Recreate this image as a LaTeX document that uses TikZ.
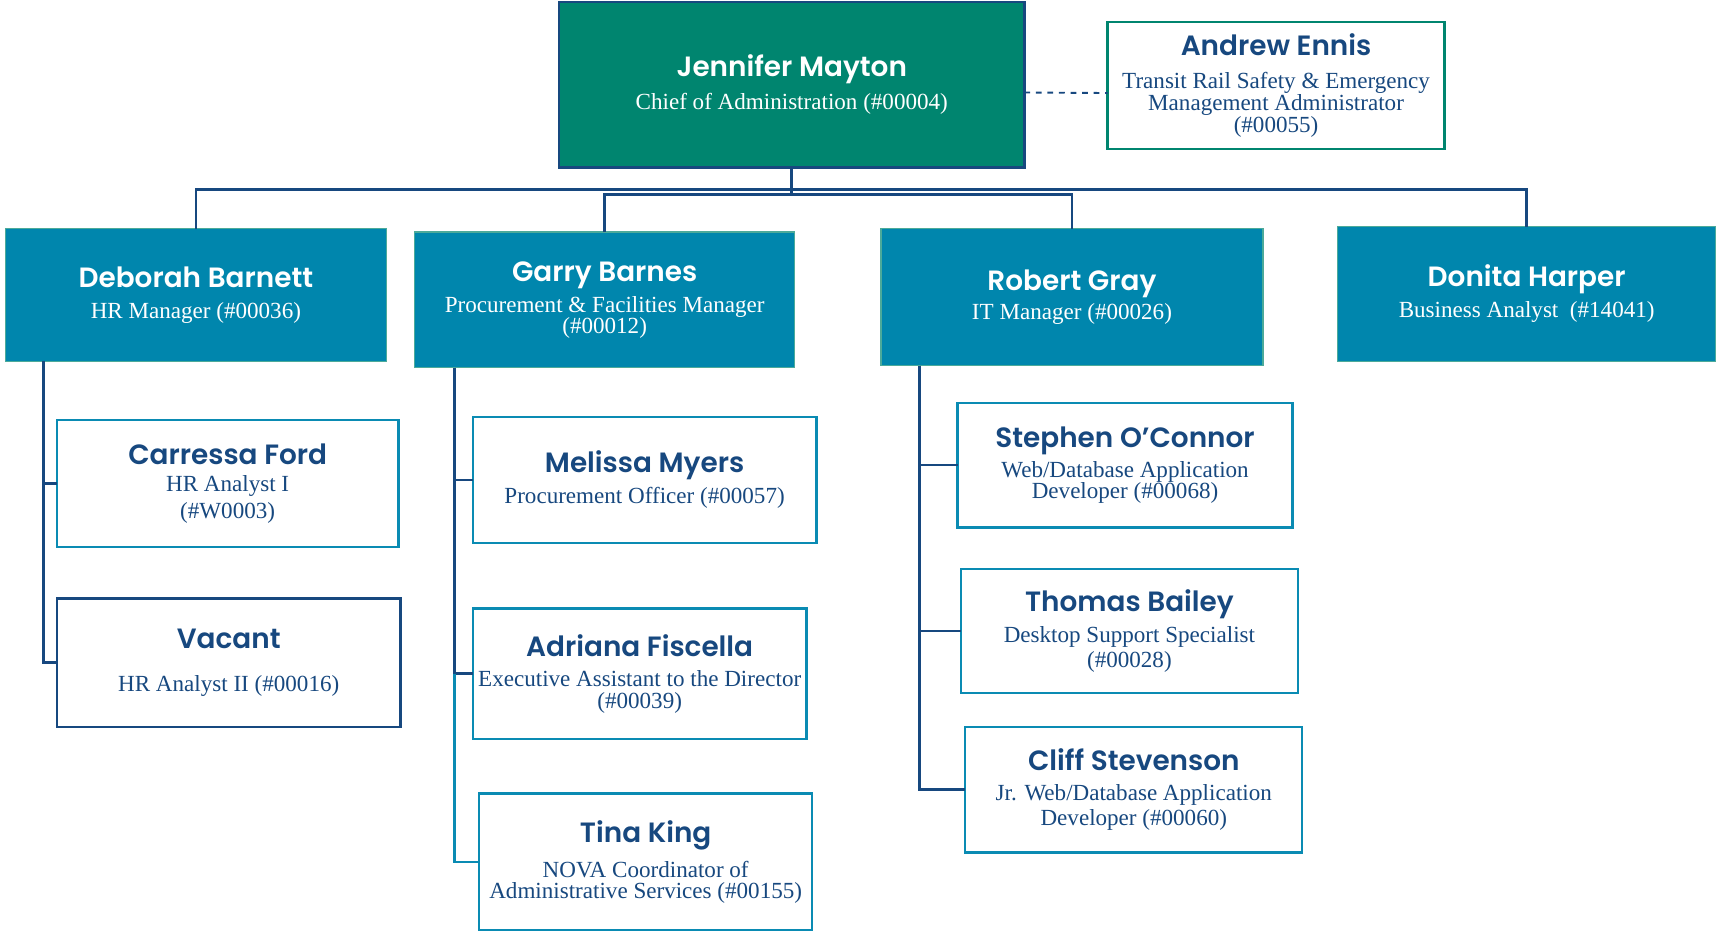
\documentclass[tikz,border=0pt]{standalone}
\usepackage{fontspec}
\setmainfont{Liberation Serif}
\newfontfamily\namefont{Poppins}[BoldFont = {Poppins SemiBold}]
\usetikzlibrary{positioning}
\definecolor{chiefteal}{HTML}{00856F}
\definecolor{mgrblue}{HTML}{0086AD}
\definecolor{orgnavy}{HTML}{17487F}
\definecolor{staffblue}{HTML}{0A8BB3}
\newcommand{\nm}{\namefont\bfseries\fontsize{14.5}{17}\selectfont}
\newcommand{\ttl}{\fontsize{12}{13}\selectfont}

\begin{document}
\begin{tikzpicture}[
                x = 0.2mm, y = -0.2mm, % one unit = one pixel of the sketch
                semithick, % line style
                conn/.style = {draw = orgnavy, line width = 1.4pt} % org chart lines
            ]

            \tikzstyle{every node}=[align = center, inner sep = 0pt,
            outer sep = 0pt, font = \ttl]
            \tikzstyle{chief}=[fill = chiefteal, draw = orgnavy, line width = 1.3pt, text = white]
            \tikzstyle{manager}=[fill = mgrblue, draw = chiefteal!70, line width = 0.6pt, text = white]
            \tikzstyle{staff}=[fill = white, draw = staffblue, line width = 1.2pt, text = orgnavy]

            \useasboundingbox (0,0) rectangle (1568,852);

            % top level
            \node (jen) [chief, minimum width = 85mm, minimum height = 30.2mm] at (723.5,77.5)
            {{\nm Jennifer Mayton}\\[4pt]Chief of Administration (\#00004)};
            \node (ann) [staff, draw = chiefteal, minimum width = 61.6mm, minimum height = 23.2mm] at (1166,78)
            {{\nm Andrew Ennis}\\[4pt]Transit Rail Safety \& Emergency\\[-1.5pt]Management Administrator\\[-1.5pt](\#00055)};

            % managers
            \node (deb) [manager, minimum width = 69.6mm, minimum height = 24.2mm] at (179,269.5)
            {{\nm Deborah Barnett}\\[3pt]HR Manager (\#00036)};
            \node (gar) [manager, minimum width = 69.4mm, minimum height = 24.8mm] at (552.5,274)
            {{\nm Garry Barnes}\\[3pt]Procurement \& Facilities Manager\\[-2pt](\#00012)};
            \node (rob) [manager, minimum width = 69.8mm, minimum height = 25mm] at (979.5,271.5)
            {{\nm Robert Gray}\\[2pt]IT Manager (\#00026)};
            \node (don) [manager, minimum width = 69.2mm, minimum height = 24.6mm] at (1395,268.5)
            {{\nm Donita Harper}\\[3pt]Business Analyst~ (\#14041)};

            % staff
            \node (car) [staff, minimum width = 62.4mm, minimum height = 23.2mm] at (208,442)
            {{\nm Carressa Ford}\\[1pt]HR Analyst I\\[1pt](\#W0003)};
            \node (vac) [staff, draw = orgnavy, minimum width = 62.8mm, minimum height = 23.4mm] at (209,605.5)
            {{\nm Vacant}\\[9pt]HR Analyst II (\#00016)};
            \node (mel) [staff, minimum width = 62.8mm, minimum height = 23mm] at (589,438.5)
            {{\nm Melissa Myers}\\[3pt]Procurement Officer (\#00057)};
            \node (adr) [staff, minimum width = 61mm, minimum height = 23.8mm] at (584.5,615.5)
            {{\nm Adriana Fiscella}\\[3pt]Executive Assistant to the Director\\[-2pt](\#00039)};
            \node (tin) [staff, minimum width = 60.8mm, minimum height = 25mm] at (590,787.5)
            {{\nm Tina King}\\[5pt]NOVA Coordinator of\\[-2pt]Administrative Services (\#00155)};
            \node (ste) [staff, minimum width = 61.2mm, minimum height = 22.8mm] at (1028,425)
            {{\nm Stephen O’Connor}\\[3pt]Web/Database Application\\[-2pt]Developer (\#00068)};
            \node (tho) [staff, minimum width = 61.6mm, minimum height = 22.6mm] at (1032,576.5)
            {{\nm Thomas Bailey}\\[3pt]Desktop Support Specialist\\(\#00028)};
            \node (cli) [staff, minimum width = 61.6mm, minimum height = 23mm] at (1036,721.5)
            {{\nm Cliff Stevenson}\\[3pt]Jr. Web/Database Application\\Developer (\#00060)};

            % lines
            \coordinate (hub) at (723.5,178); \coordinate (hubtop) at (723.5,173);
            \draw[conn] (jen.south) -- (hub);
            \draw[conn] (deb.north) |- (hubtop) -| (don.north);
            \draw[conn] (gar.north) |- (hub) -| (rob.north);
            \draw[conn, dashed, line width = 1pt] ([yshift=-1.4mm]jen.east) -- ([yshift=-1.4mm]ann.west);

            \coordinate (debtrunk) at ([xshift=7mm]deb.south west);
            \coordinate (gartrunk) at ([xshift=7.2mm]gar.south west);
            \coordinate (robtrunk) at ([xshift=7mm]rob.south west);
            \draw[conn] (debtrunk) |- (car.west); \draw[conn] (debtrunk) |- (vac.west);
            \draw[conn] (gartrunk) |- (mel.west); \draw[conn] (gartrunk) |- (adr.west);
            \draw[conn, draw = staffblue] (gartrunk |- adr.west) |- (tin.west);
            \draw[conn] (robtrunk) |- (ste.west); \draw[conn] (robtrunk) |- (tho.west);
            \draw[conn] (robtrunk) |- (cli.west);

        \end{tikzpicture}
\end{document}
